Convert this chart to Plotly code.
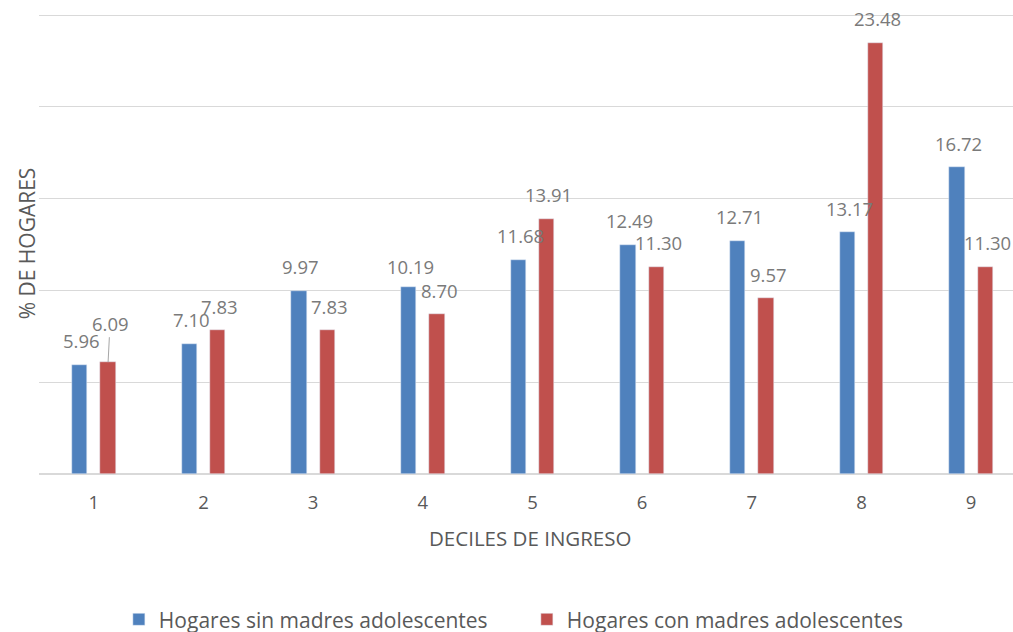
import plotly.graph_objects as go

# Income deciles and share of households (%) for each group
deciles = ["1", "2", "3", "4", "5", "6", "7", "8", "9"]
sin_madres = [5.96, 7.10, 9.97, 10.19, 11.68, 12.49, 12.71, 13.17, 16.72]
con_madres = [6.09, 7.83, 7.83, 8.70, 13.91, 11.30, 9.57, 23.48, 11.30]

serie_sin = "Hogares sin madres adolescentes"
serie_con = "Hogares con madres adolescentes"

AZUL = "#4f81bd"
ROJO = "#c0504d"
GRIS_TXT = "#595959"
GRIS_ETQ = "#7a7a7a"
FUENTE = "Open Sans"

pos = list(range(len(deciles)))
ancho = 0.14
desp = 0.13  # distance of each bar centre from the decile centre

fig = go.Figure()
fig.add_trace(go.Bar(x=pos, y=sin_madres, name=serie_sin, marker_color=AZUL,
                     width=ancho, offset=-desp - ancho / 2))
fig.add_trace(go.Bar(x=pos, y=con_madres, name=serie_con, marker_color=ROJO,
                     width=ancho, offset=desp - ancho / 2))

# value labels above each bar
anots = []
for serie, signo in ((sin_madres, -1), (con_madres, 1)):
    for i, v in enumerate(serie):
        texto = f"{v:.2f}"
        base = dict(x=i + signo * desp, y=v, xref="x", yref="y", text=texto,
                    font=dict(family=FUENTE, size=18.5, color=GRIS_ETQ))
        if signo == 1 and i == 0:
            # leader line for the crowded first decile
            base.update(showarrow=True, arrowhead=0, arrowwidth=1,
                        arrowcolor="#a6a6a6", ax=2, ay=-39, standoff=0)
        else:
            base.update(showarrow=False, xshift=2,
                        yshift=20 if (signo == -1 and i == 3) else 24,
                        yanchor="middle")
        anots.append(base)

# axis titles
anots.append(dict(text="DECILES DE INGRESO", xref="paper", yref="paper",
                  x=0.504, y=-0.138, showarrow=False, xanchor="center",
                  yanchor="middle",
                  font=dict(family=FUENTE, size=20.5, color=GRIS_TXT)))
anots.append(dict(text="% DE HOGARES", xref="paper", yref="paper",
                  x=-0.0125, y=0.5, showarrow=False, textangle=-90,
                  xanchor="center", yanchor="middle",
                  font=dict(family=FUENTE, size=21, color=GRIS_TXT)))

fig.update_layout(
    width=1013, height=632,
    margin=dict(l=39, r=0, t=13, b=158, autoexpand=False),
    paper_bgcolor="white", plot_bgcolor="white",
    font=dict(family=FUENTE, color=GRIS_TXT),
    annotations=anots,
    showlegend=True,
    legend=dict(orientation="h", xanchor="left", x=0.082,
                yanchor="middle", y=-0.316,
                font=dict(family=FUENTE, size=21, color=GRIS_TXT),
                itemwidth=30, tracegroupgap=0, entrywidth=363,
                entrywidthmode="pixels"),
    xaxis=dict(range=[-0.5, 8.382], tickmode="array", tickvals=pos,
               ticktext=deciles, showgrid=False, zeroline=False,
               showline=False, ticks="", ticklabelstandoff=15,
               tickfont=dict(family=FUENTE, size=18.5, color=GRIS_TXT)),
    yaxis=dict(range=[0, 25.109], tickmode="array",
               tickvals=[5, 10, 15, 20, 25], showgrid=True,
               gridcolor="#d9d9d9", gridwidth=1.2, zeroline=True,
               zerolinecolor="#d9d9d9", zerolinewidth=1.6,
               showticklabels=False, ticks=""),
    bargap=0, bargroupgap=0,
)

fig.write_html("out.html")
